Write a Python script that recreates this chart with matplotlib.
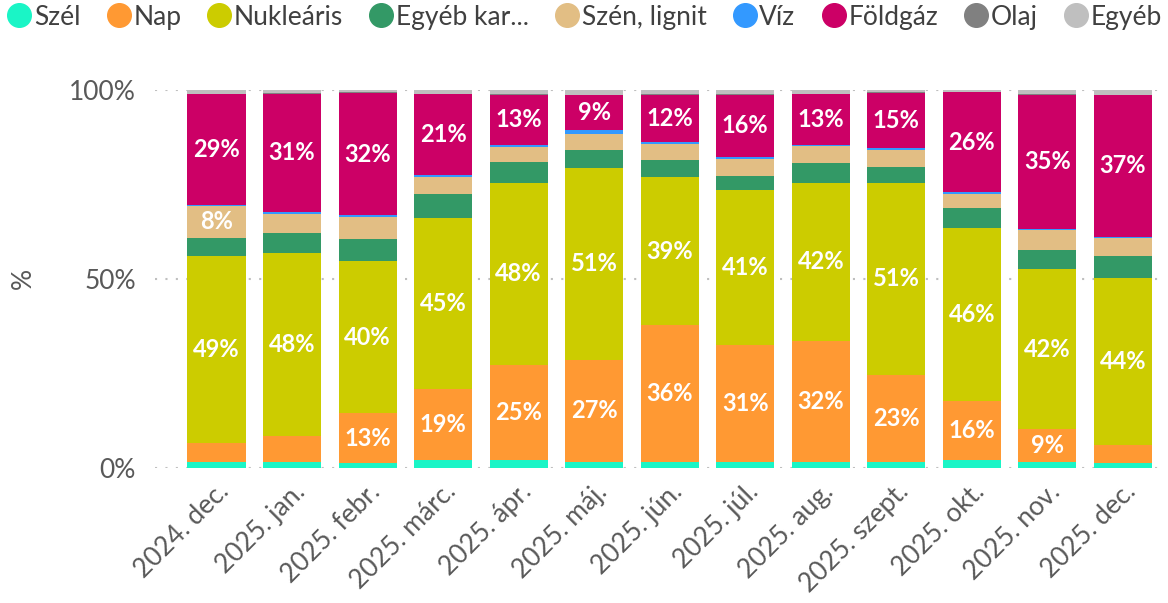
import numpy as np
import matplotlib
matplotlib.use("Agg")
import matplotlib.pyplot as plt
from matplotlib.lines import Line2D

plt.rcParams['font.family'] = ['Lato', 'DejaVu Sans']

# havi adatok, %
months = ['2024. dec.', '2025. jan.', '2025. febr.', '2025. márc.', '2025. ápr.',
          '2025. máj.', '2025. jún.', '2025. júl.', '2025. aug.', '2025. szept.',
          '2025. okt.', '2025. nov.', '2025. dec.']

szel      = [1.6, 1.6, 1.3, 2.0, 2.0, 1.6, 1.6, 1.6, 1.6, 1.6, 2.0, 1.5, 1.4]
nap       = [5.1, 6.8, 13.1, 18.9, 25.3, 27.0, 36.2, 31.0, 32.0, 23.0, 15.7, 8.7, 4.6]
nuklearis = [49.3, 48.4, 40.2, 45.2, 48.0, 50.8, 39.1, 40.8, 41.8, 50.8, 45.8, 42.4, 44.3]
egyeb_kar = [4.9, 5.3, 6.0, 6.4, 5.6, 4.8, 4.6, 3.8, 5.3, 4.1, 5.2, 5.1, 5.8]
szen      = [8.4, 5.1, 5.8, 4.4, 4.0, 4.0, 4.3, 4.6, 4.4, 4.7, 3.8, 5.1, 4.6]
viz       = [0.3, 0.4, 0.4, 0.5, 0.5, 1.1, 0.5, 0.5, 0.4, 0.4, 0.4, 0.5, 0.5]
foldgaz   = [29.3, 31.4, 32.4, 21.4, 13.3, 9.3, 12.4, 16.4, 13.3, 14.6, 26.5, 35.4, 37.4]
olaj      = [0.1] * 13
egyeb     = [1.0, 0.9, 0.7, 1.1, 1.2, 1.3, 1.2, 1.2, 1.1, 0.7, 0.5, 1.2, 1.3]

names = ['Szél', 'Nap', 'Nukleáris', 'Egyéb kar...', 'Szén, lignit', 'Víz', 'Földgáz', 'Olaj', 'Egyéb']
series = [szel, nap, nuklearis, egyeb_kar, szen, viz, foldgaz, olaj, egyeb]
colors = ['#1AF5C6', '#FF9933', '#CCCC00', '#339966', '#E2BE84', '#3399FF', '#CC0066', '#808080', '#BFBFBF']

fig = plt.figure(figsize=(11.68, 6.03), dpi=100)
ax = fig.add_axes([0.133, 0.224, 0.862, 0.627])

x = np.arange(len(months))
bottom = np.zeros(len(months))
for vals, col in zip(series, colors):
    vals = np.array(vals)
    ax.bar(x, vals, 0.77, bottom=bottom, color=col, zorder=2)
    for xi, v, b in zip(x, vals, bottom):
        if v >= 7.5:
            ax.text(xi, b + v / 2, f'{v:.0f}%', ha='center', va='center',
                    color='white', fontsize=17, fontweight='bold', zorder=3)
    bottom += vals

for yv in [0, 50, 100]:
    ax.axhline(yv, color='#BFBFBF', linestyle=(0, (1, 4)), linewidth=1.5, zorder=1)

ax.set_xlim(-0.81, 12.52)
ax.set_ylim(0, 100)
ax.set_yticks([0, 50, 100])
ax.set_yticklabels(['0%', '50%', '100%'])
ax.set_xticks(x)
ax.set_xticklabels(months, rotation=45, ha='right', rotation_mode='anchor')
ax.tick_params(axis='y', length=0, labelsize=19, colors='#595959', pad=14)
ax.tick_params(axis='x', length=0, labelsize=19, colors='#595959', pad=8)
ax.set_ylabel('%', fontsize=19, color='#595959', labelpad=24)
for s in ax.spines.values():
    s.set_visible(False)

handles = [Line2D([], [], marker='o', linestyle='', markersize=17, color=c) for c in colors]
fig.legend(handles, names, loc='upper center', bbox_to_anchor=(0.5, 1.01), ncol=9,
           frameon=False, fontsize=19, labelcolor='#404040', handletextpad=0.05,
           columnspacing=0.95, handlelength=1.0, borderaxespad=0)

fig.savefig('out.png', dpi=100)
